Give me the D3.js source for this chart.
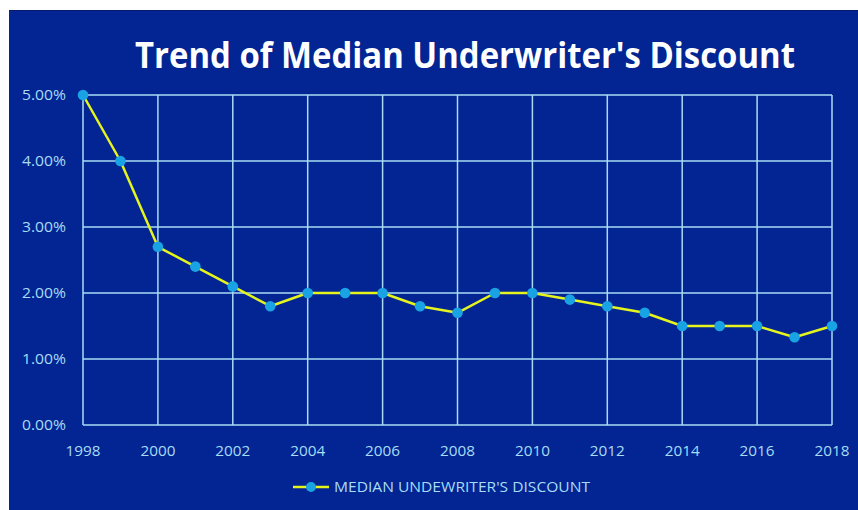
<!DOCTYPE html>
<html><head><meta charset="utf-8">
<script src="https://cdn.jsdelivr.net/npm/d3@7/dist/d3.min.js"></script>
<style>body{margin:0;background:#fff}svg{display:block}</style>
</head><body>
<script>
const years = [1998,1999,2000,2001,2002,2003,2004,2005,2006,2007,2008,2009,2010,2011,2012,2013,2014,2015,2016,2017,2018];
const discount = [5.0,4.0,2.7,2.4,2.1,1.8,2.0,2.0,2.0,1.8,1.7,2.0,2.0,1.9,1.8,1.7,1.5,1.5,1.5,1.33,1.5];
const yTicks = [0,1,2,3,4,5];
const xTicks = [1998,2000,2002,2004,2006,2008,2010,2012,2014,2016,2018];
const title = "Trend of Median Underwriter's Discount";
const seriesName = "MEDIAN UNDEWRITER'S DISCOUNT";

const W=858,H=510;
const svg=d3.select("body").append("svg").attr("width",W).attr("height",H);
svg.append("rect").attr("x",9).attr("y",10).attr("width",W-9).attr("height",H-10).attr("fill","#022593");
svg.append("line").attr("x1",9).attr("x2",W).attr("y1",10.5).attr("y2",10.5).attr("stroke","#061a6e").attr("stroke-width",1);

const x=d3.scaleLinear().domain([1998,2018]).range([83,832]);
const y=d3.scaleLinear().domain([0,5]).range([425,95]);
const gridC="#a9dcf3", textC="#a8dcf5";

svg.append("g").selectAll("line").data(yTicks).join("line")
  .attr("x1",x(1998)).attr("x2",x(2018)).attr("y1",d=>y(d)).attr("y2",d=>y(d))
  .attr("stroke",gridC).attr("stroke-width",1.5);
svg.append("g").selectAll("line").data(xTicks).join("line")
  .attr("x1",d=>x(d)).attr("x2",d=>x(d)).attr("y1",y(0)).attr("y2",y(5))
  .attr("stroke",gridC).attr("stroke-width",1.5);

const font="'Open Sans', sans-serif";
svg.append("g").selectAll("text").data(yTicks).join("text")
  .attr("x",66).attr("y",d=>y(d)+5).attr("text-anchor","end")
  .attr("fill",textC).attr("font-family",font).attr("font-size",14)
  .attr("textLength",44).attr("lengthAdjust","spacingAndGlyphs")
  .text(d=>d3.format(".2f")(d)+"%");
svg.append("g").selectAll("text").data(xTicks).join("text")
  .attr("x",d=>x(d)).attr("y",456).attr("text-anchor","middle")
  .attr("fill",textC).attr("font-family",font).attr("font-size",14)
  .attr("textLength",35).attr("lengthAdjust","spacingAndGlyphs")
  .text(d=>d);

svg.append("text").attr("x",465).attr("y",68).attr("text-anchor","middle")
  .attr("fill","#ffffff").attr("font-family",font).attr("font-weight","bold").attr("font-size",35)
  .attr("textLength",660).attr("lengthAdjust","spacingAndGlyphs").text(title);

const line=d3.line().x((d,i)=>x(years[i])).y(d=>y(d));
svg.append("path").datum(discount).attr("d",line).attr("fill","none")
  .attr("stroke","#e6f41e").attr("stroke-width",2.5).attr("stroke-linejoin","round");
svg.append("g").selectAll("circle").data(discount).join("circle")
  .attr("cx",(d,i)=>x(years[i])).attr("cy",d=>y(d)).attr("r",5.3)
  .attr("fill","#1aa3e4");

// legend
svg.append("line").attr("x1",293).attr("x2",329).attr("y1",487).attr("y2",487)
  .attr("stroke","#e6f41e").attr("stroke-width",2.5);
svg.append("circle").attr("cx",311).attr("cy",487).attr("r",5).attr("fill","#1aa3e4");
svg.append("text").attr("x",334).attr("y",492).attr("fill",textC)
  .attr("font-family",font).attr("font-size",14).attr("textLength",256).attr("lengthAdjust","spacingAndGlyphs")
  .text(seriesName);
</script>
</body></html>
